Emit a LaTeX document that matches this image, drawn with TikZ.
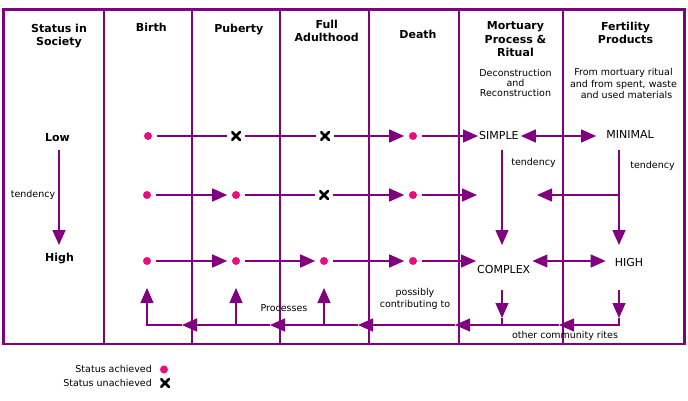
\documentclass[tikz,border=0pt]{standalone}
\usepackage{fontspec}
\setmainfont{DejaVu Sans}
\usetikzlibrary{arrows.meta}
\definecolor{purp}{HTML}{800080}
\definecolor{dotpink}{HTML}{EC0C7C}
\begin{document}
\begin{tikzpicture}[x=1pt,y=-1pt,
  frame/.style={draw=purp,line width=2.5pt},
  divider/.style={draw=purp,line width=1.3pt},
  conn/.style={draw=purp,line width=1.3pt,line join=miter},
  tip/.style={-{Triangle[length=15pt,width=13pt]}},
  dtip/.style={{Triangle[length=15pt,width=13pt]}-{Triangle[length=15pt,width=13pt]}},
  achieved/.style={circle,fill=dotpink,minimum size=8pt,inner sep=0pt,outer sep=4.8pt},
  unachieved/.style={minimum size=9.5pt,inner sep=0pt,outer sep=4.5pt,
    path picture={\draw[black,line width=2.5pt]
      (path picture bounding box.north west)--(path picture bounding box.south east)
      (path picture bounding box.north east)--(path picture bounding box.south west);}},
  head/.style={font=\fontsize{11}{13.3}\selectfont\bfseries,align=center,inner sep=0pt},
  small/.style={font=\fontsize{9.5}{10.5}\selectfont,align=center,inner sep=0pt},
  big/.style={font=\fontsize{11}{12}\selectfont,inner sep=1pt},
]
\useasboundingbox (0,0) rectangle (688,401);
% frame and dividers
\draw[frame] (3.3,9.3) rectangle (684.4,344);
\foreach \x in {104,192,280,369,459,563}
  \draw[divider] (\x,9.3) -- (\x,344);
% headers
\node[head,anchor=north] (hstatus) at (59,23.8) {Status in\\Society};
\node[head,anchor=base] (hbirth) at (151.3,32) {Birth};
\node[head,anchor=base] (hpub) at (238.8,32.5) {Puberty};
\node[head,anchor=north] (hfull) at (326.7,19.8) {Full\\Adulthood};
\node[head,anchor=base] (hdeath) at (418,39) {Death};
\node[head,anchor=north] (hmort) at (515.5,21.5) {Mortuary\\Process \&\\Ritual};
\node[head,anchor=north] (hfert) at (625.5,21.5) {Fertility\\Products};
\node[small,anchor=north,font=\fontsize{9.5}{10}\selectfont] (sdec) at (515.5,69) {Deconstruction\\and\\Reconstruction};
\node[small,anchor=north,font=\fontsize{9.5}{11.2}\selectfont] (sfrom) at (623.5,68.5) {From mortuary ritual\\and from spent, waste\\\ \ and used materials};
% status column
\node[head,anchor=base] (low) at (57.5,141.7) {Low};
\node[head,anchor=base] (high2) at (59.5,261.7) {High};
\node[small,anchor=base] (ten1) at (33,197.5) {tendency};
\coordinate (st1) at (59,150);
\coordinate (st2) at (59,245);
\draw[conn,tip] (st1) -- (st2);
% row 1
\node[achieved] (a1) at (148,136) {};
\node[unachieved] (b1) at (236,136) {};
\node[unachieved] (c1) at (325,136) {};
\node[achieved] (d1) at (413,136) {};
\node[big,anchor=west] (simple) at (478,135.7) {SIMPLE};
\node[big] (minimal) at (630,134.5) {MINIMAL};
\draw[conn] (a1) -- (b1);
\draw[conn] (b1) -- (c1);
\draw[conn,tip] (c1) -- (d1);
\draw[conn,tip] (d1) -- (d1 -| simple.west);
\draw[conn,dtip,shorten <=1pt,shorten >=9pt] (simple.east |- a1) -- (minimal.west |- a1);
% row 2
\node[achieved] (a2) at (147,195) {};
\node[achieved] (b2) at (236,195) {};
\node[unachieved] (c2) at (324,195) {};
\node[achieved] (d2) at (413,195) {};
\coordinate (m2) at (477,195);
\coordinate (f2) at (619,195);
\coordinate (m2r) at (537,195);
\draw[conn,tip] (a2) -- (b2);
\draw[conn] (b2) -- (c2);
\draw[conn,tip] (c2) -- (d2);
\draw[conn,tip] (d2) -- (m2);
\draw[conn,tip] (f2) -- (m2r);
% verticals with tendency
\coordinate (sv1) at (502,150);
\coordinate (sv2) at (502,245);
\draw[conn,tip] (sv1) -- (sv2);
\coordinate (mv1) at (619,150);
\coordinate (mv2) at (619,245);
\draw[conn,tip] (mv1) -- (mv2);
\node[small,anchor=base] (ten2) at (533.5,165) {tendency};
\node[small,anchor=base] (ten3) at (652.5,168) {tendency};
% row 3
\node[achieved] (a3) at (147,261) {};
\node[achieved] (b3) at (236,261) {};
\node[achieved] (c3) at (324,261) {};
\node[achieved] (d3) at (413,261) {};
\node[big,anchor=west] (complex) at (476,269.8) {COMPLEX};
\node[big] (high) at (629,262.3) {HIGH};
\draw[conn,tip] (a3) -- (b3);
\draw[conn,tip] (b3) -- (c3);
\draw[conn,tip] (c3) -- (d3);
\draw[conn,tip] (d3) -- (d3 -| complex.west);
\draw[conn,dtip,shorten <=1pt,shorten >=8pt] (complex.east |- d3) -- (high.west |- d3);
% bottom feedback loop
\coordinate (cv1) at (502,290);
\coordinate (cv2) at (502,318);
\coordinate (cv3) at (502,325);
\coordinate (hv1) at (619,290);
\coordinate (hv2) at (619,318);
\coordinate (p5) at (559,325);
\coordinate (p4) at (455,325);
\coordinate (p3) at (358,325);
\coordinate (p2) at (270,325);
\coordinate (p1) at (182,325);
\coordinate (u1) at (147,288);
\coordinate (q2) at (236,325);
\coordinate (u2) at (236,288);
\coordinate (q3) at (324,325);
\coordinate (u3) at (324,288);
\draw[conn,tip] (cv1) -- (cv2);
\draw[conn] (cv2) -- (cv3);
\draw[conn,tip] (hv1) -- (hv2);
\draw[conn,tip] (hv2) |- (p5);
\draw[conn,tip] (p5) -- (p4);
\draw[conn,tip] (p4) -- (p3);
\draw[conn,tip] (p3) -- (p2);
\draw[conn,tip] (p2) -- (p1);
\draw[conn,tip] (p1) -| (u1);
\draw[conn,tip] (q2) -- (u2);
\draw[conn,tip] (q3) -- (u3);
\node[small,anchor=base] (proc) at (284,311.7) {Processes};
\node[small,anchor=north,font=\fontsize{9.5}{12}\selectfont] (poss) at (415,288.5) {possibly\\contributing to};
\node[small,anchor=base] (other) at (565,338.3) {other community rites};
% legend
\node[small,anchor=base east] (la) at (152,372.3) {Status achieved};
\node[achieved] (ld) at (164,369.5) {};
\node[small,anchor=base east] (lu) at (152,386.3) {Status unachieved};
\node[unachieved] (lx) at (165,383) {};
\end{tikzpicture}
\end{document}
